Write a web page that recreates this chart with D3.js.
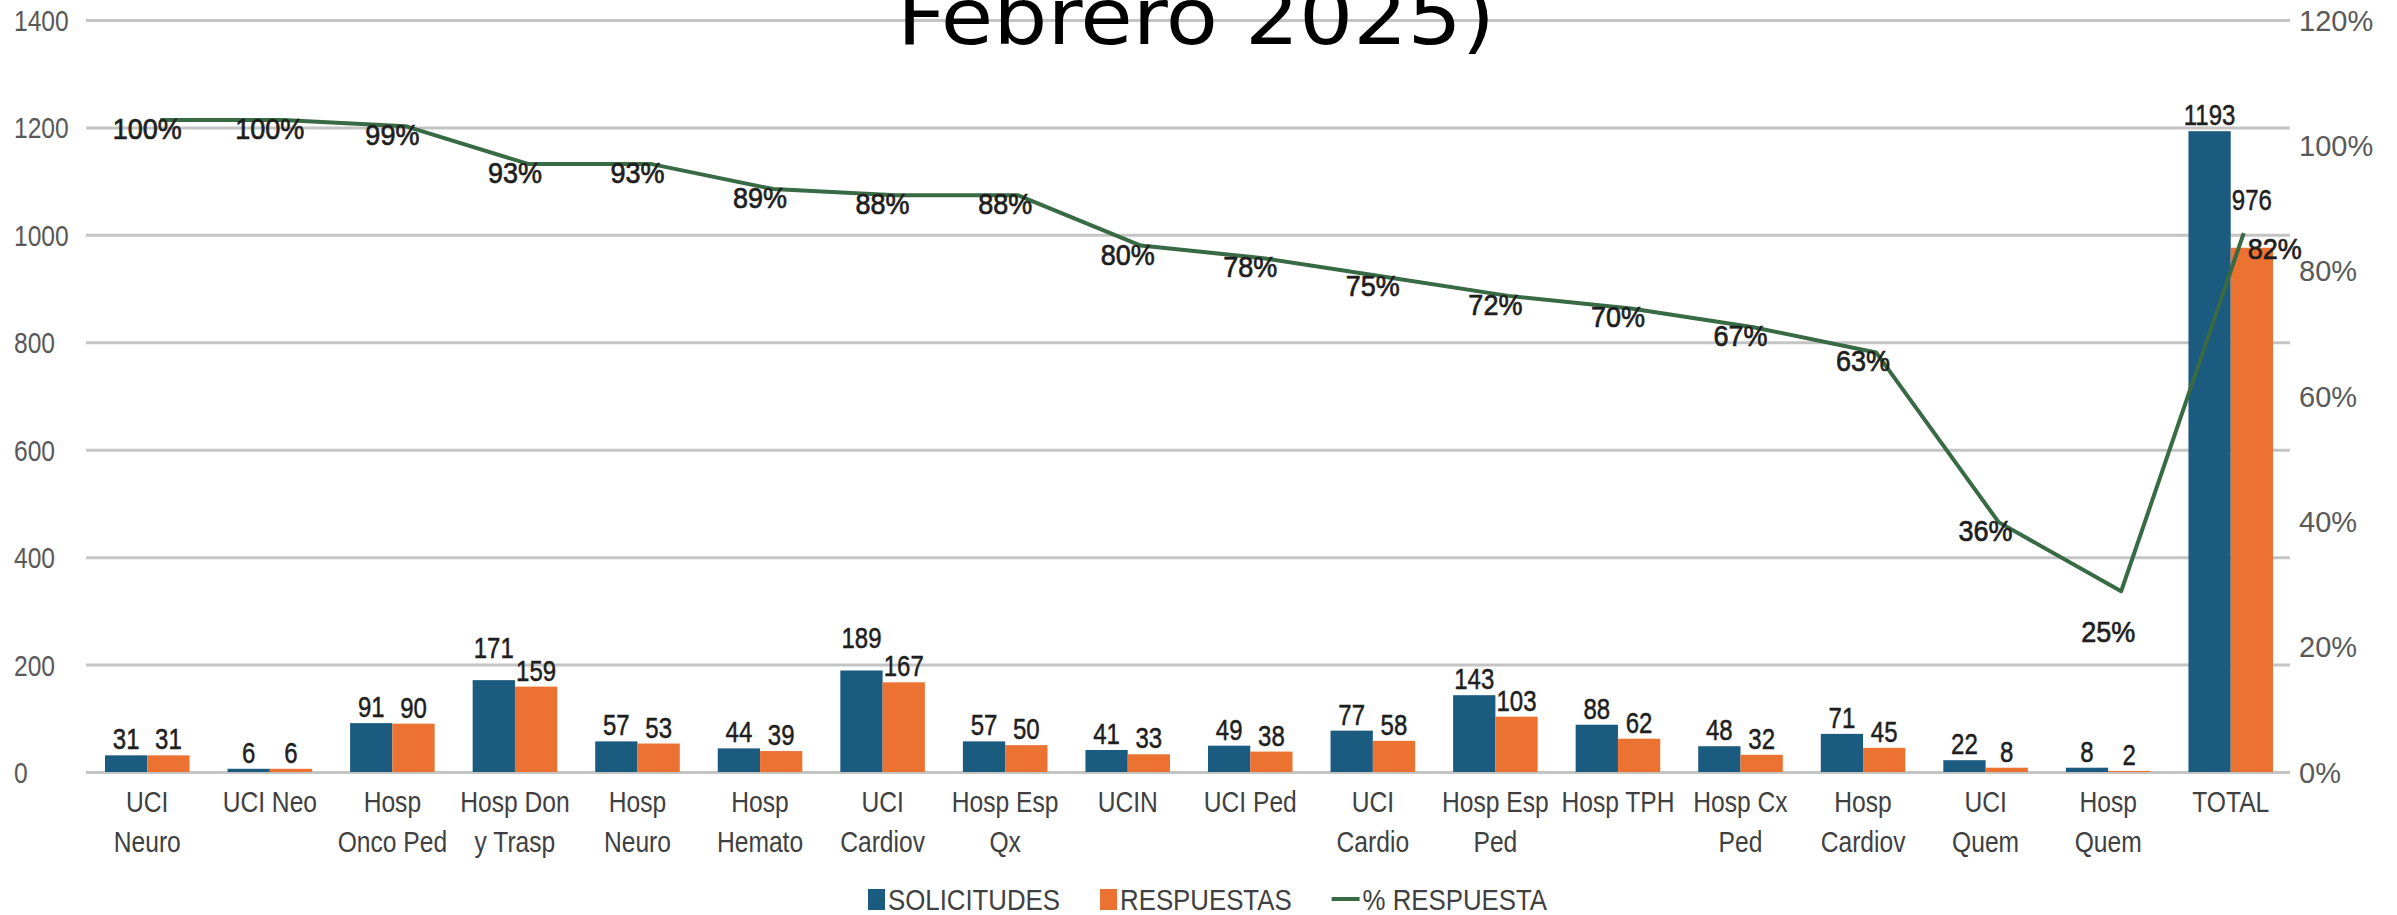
<!DOCTYPE html>
<html>
<head>
<meta charset="utf-8">
<script src="https://cdn.jsdelivr.net/npm/d3@7"></script>
<style>
  html, body { margin: 0; padding: 0; background: #fff; }
  svg { display: block; }
</style>
</head>
<body>
<div id="chart"></div>
<script>
// values
var categories = ["UCI\nNeuro", "UCI Neo", "Hosp\nOnco Ped", "Hosp Don\ny Trasp", "Hosp\nNeuro",
  "Hosp\nHemato", "UCI\nCardiov", "Hosp Esp\nQx", "UCIN", "UCI Ped", "UCI\nCardio",
  "Hosp Esp\nPed", "Hosp TPH", "Hosp Cx\nPed", "Hosp\nCardiov", "UCI\nQuem", "Hosp\nQuem", "TOTAL"];
var solicitudes = [31, 6, 91, 171, 57, 44, 189, 57, 41, 49, 77, 143, 88, 48, 71, 22, 8, 1193];
var respuestas = [31, 6, 90, 159, 53, 39, 167, 50, 33, 38, 58, 103, 62, 32, 45, 8, 2, 976];
var pctRespuesta = [1.00, 1.00, 0.99, 0.93, 0.93, 0.89, 0.88, 0.88, 0.80, 0.78, 0.75, 0.72, 0.70, 0.67, 0.63, 0.36, 0.25, 0.82];
var leftTicks = [0, 200, 400, 600, 800, 1000, 1200, 1400];
var rightTicks = [0, 0.2, 0.4, 0.6, 0.8, 1.0, 1.2];
var seriesNames = ["SOLICITUDES", "RESPUESTAS", "% RESPUESTA"];
var titleText = "Febrero 2025)";

var W = 2397, H = 915;
var blue = "#1b5b80", orange = "#ec7232", green = "#386a44";
var font = "'Liberation Sans', Arial, sans-serif";

// where the % labels sit (the picture puts two of them apart)
var pctLabelPlace = { "Hosp\nQuem": "below", "TOTAL": "right" };
// labels the source lifted to dodge a neighbour
var solLabelLift = { "Hosp Don\ny Trasp": 16, "UCI\nCardiov": 16 };
var respLabelLift = { "TOTAL": 32 };

// the source uses a narrow face; squeeze the glyphs to get it
function squeeze(sel, k) {
  sel.each(function () {
    var L = this.getComputedTextLength();
    d3.select(this).attr("textLength", L * k).attr("lengthAdjust", "spacingAndGlyphs");
  });
}

var svg = d3.select("#chart").append("svg")
  .attr("width", W).attr("height", H);

var x = d3.scaleBand().domain(categories).range([86, 2292])
  .paddingInner(0.31).paddingOuter(0.155);
var xs = d3.scaleBand().domain(["sol", "resp"]).range([0, x.bandwidth()]);
var y = d3.scaleLinear().domain([0, 1400]).range([772, 20]);
var y2 = d3.scaleLinear().domain([0, 1.2]).range([772, 20]);
// the line in the source does not follow the right axis, it has its own scale
var yLine = d3.scaleLinear().domain([0, 1]).range([y(44), y(1214)]);
var lineShift = 13;

// grid
svg.append("g")
  .attr("transform", "translate(86,0)")
  .call(d3.axisLeft(y).tickValues(leftTicks).tickSize(-(2290 - 86)).tickFormat(""))
  .call(function (g) {
    g.select(".domain").remove();
    g.selectAll(".tick line").attr("stroke", "#c4c4c4").attr("stroke-width", 3);
  });

// left axis
var leftAxis = svg.append("g")
  .attr("transform", "translate(86,0)")
  .call(d3.axisLeft(y).tickValues(leftTicks).tickSize(0).tickFormat(d3.format("d")));
leftAxis.select(".domain").remove();
leftAxis.selectAll("text")
  .attr("x", 14 - 86).attr("dy", "0.35em")
  .style("text-anchor", "start")
  .style("font-family", font).style("font-size", "30px").attr("fill", "#595959");
squeeze(leftAxis.selectAll("text"), 0.82);

// right axis
var rightAxis = svg.append("g")
  .attr("transform", "translate(2290,0)")
  .call(d3.axisRight(y2).tickValues(rightTicks).tickSize(0).tickFormat(d3.format(".0%")));
rightAxis.select(".domain").remove();
rightAxis.selectAll("text")
  .attr("x", 9).attr("dy", "0.35em")
  .style("font-family", font).style("font-size", "29px").attr("fill", "#595959");

// bars
var groups = svg.append("g").selectAll("g")
  .data(categories).enter().append("g")
  .attr("transform", function (d) { return "translate(" + x(d) + ",0)"; });

groups.append("rect")
  .attr("x", xs("sol")).attr("width", xs.bandwidth())
  .attr("y", function (d, i) { return y(solicitudes[i]); })
  .attr("height", function (d, i) { return y(0) - y(solicitudes[i]); })
  .attr("fill", blue);

groups.append("rect")
  .attr("x", xs("resp")).attr("width", xs.bandwidth())
  .attr("y", function (d, i) { return y(respuestas[i]); })
  .attr("height", function (d, i) { return y(0) - y(respuestas[i]); })
  .attr("fill", orange);

// bar labels
var solLabels = groups.append("text")
  .attr("x", xs("sol") + xs.bandwidth() / 2)
  .attr("y", function (d, i) { return y(solicitudes[i]) - 6 - (solLabelLift[d] || 0); })
  .attr("text-anchor", "middle")
  .style("font-family", font).style("font-size", "30px")
  .attr("fill", "#1e1e1e").attr("stroke", "#1e1e1e").attr("stroke-width", 0.5)
  .text(function (d, i) { return solicitudes[i]; });

var respLabels = groups.append("text")
  .attr("x", xs("resp") + xs.bandwidth() / 2)
  .attr("y", function (d, i) { return y(respuestas[i]) - 6 - (respLabelLift[d] || 0); })
  .attr("text-anchor", "middle")
  .style("font-family", font).style("font-size", "30px")
  .attr("fill", "#1e1e1e").attr("stroke", "#1e1e1e").attr("stroke-width", 0.5)
  .text(function (d, i) { return respuestas[i]; });
squeeze(solLabels, 0.8);
squeeze(respLabels, 0.8);

// category labels
var catLabels = groups.append("text")
  .attr("text-anchor", "middle")
  .style("font-family", font).style("font-size", "30px").attr("fill", "#404040")
  .each(function (d) {
    var t = d3.select(this);
    d.split("\n").forEach(function (part, k) {
      t.append("tspan")
        .attr("x", x.bandwidth() / 2)
        .attr("y", 812 + k * 40)
        .text(part);
    });
  });
squeeze(catLabels.selectAll("tspan"), 0.82);

// % line
var line = d3.line()
  .x(function (d, i) { return x(categories[i]) + x.bandwidth() / 2 + lineShift; })
  .y(function (d) { return yLine(d); });

svg.append("path")
  .datum(pctRespuesta)
  .attr("d", line)
  .attr("fill", "none")
  .attr("stroke", green)
  .attr("stroke-width", 4)
  .attr("stroke-linejoin", "round");

// % labels
var pctLabels = svg.append("g").selectAll("text")
  .data(pctRespuesta).enter().append("text")
  .attr("x", function (d, i) {
    var c = categories[i];
    if (pctLabelPlace[c] == "right") return x(c) + x.bandwidth() / 2 + lineShift + 4;
    return x(c) + x.bandwidth() / 2;
  })
  .attr("y", function (d, i) {
    var c = categories[i];
    if (pctLabelPlace[c] == "below") return yLine(d) + 51;
    if (pctLabelPlace[c] == "right") return yLine(d) + 26;
    return yLine(d) + 19;
  })
  .attr("text-anchor", function (d, i) {
    return pctLabelPlace[categories[i]] == "right" ? "start" : "middle";
  })
  .style("font-family", font).style("font-size", "30px")
  .attr("fill", "#1e1e1e").attr("stroke", "#1e1e1e").attr("stroke-width", 0.7)
  .text(function (d) { return d3.format(".0%")(d); });
squeeze(pctLabels, 0.9);

// title (cut at the top in the source)
svg.append("text")
  .attr("x", 1196).attr("y", 44)
  .attr("text-anchor", "middle")
  .attr("textLength", 598).attr("lengthAdjust", "spacingAndGlyphs")
  .style("font-family", "'DejaVu Sans Condensed', 'DejaVu Sans', sans-serif")
  .style("font-size", "78px").attr("fill", "#000")
  .text(titleText);

// legend
var legend = svg.append("g").attr("transform", "translate(868,899)");
var lx = 0;
seriesNames.forEach(function (name, i) {
  var item = legend.append("g").attr("transform", "translate(" + lx + ",0)");
  var sw;
  if (i < 2) {
    item.append("rect").attr("x", 0).attr("y", -10).attr("width", 17).attr("height", 21)
      .attr("fill", i == 0 ? blue : orange);
    sw = 20;
  } else {
    item.append("line").attr("x1", 0).attr("x2", 28).attr("y1", 0).attr("y2", 0)
      .attr("stroke", green).attr("stroke-width", 4);
    sw = 31;
  }
  var t = item.append("text").attr("x", sw).attr("y", 0).attr("dy", "0.35em")
    .style("font-family", font).style("font-size", "30px").attr("fill", "#404040")
    .text(name);
  var L = t.node().getComputedTextLength() * 0.86;
  t.attr("textLength", L).attr("lengthAdjust", "spacingAndGlyphs");
  lx += sw + L + 40;
});
</script>
</body>
</html>
